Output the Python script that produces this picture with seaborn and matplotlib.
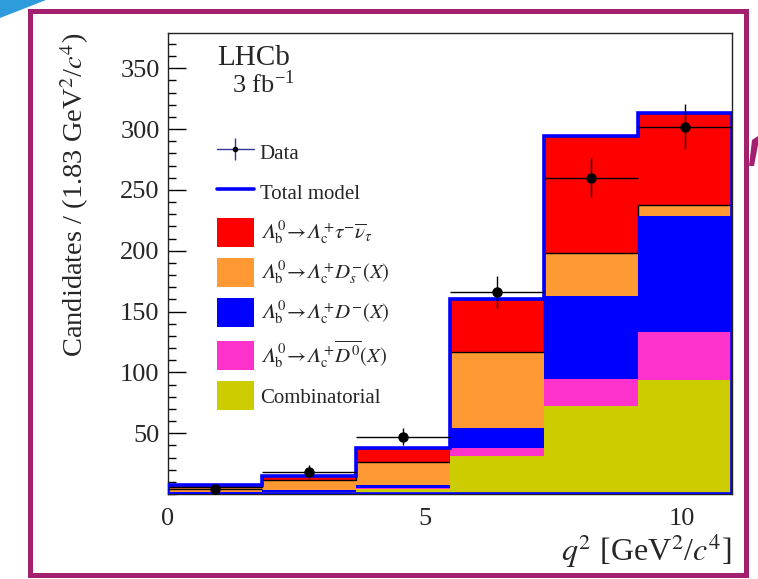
import numpy as np
import pandas as pd
import seaborn as sns
import matplotlib
matplotlib.use("Agg")
import matplotlib.pyplot as plt
from matplotlib.patches import Rectangle, Polygon
from matplotlib.lines import Line2D
from matplotlib.patches import Patch
from matplotlib.ticker import MultipleLocator

# q^2 binning (GeV^2/c^4)
edges = [0.0, 1.83, 3.66, 5.49, 7.32, 9.15, 10.98]

# Fitted yields per bin for each template
tau_nu = [1.5, 3.5, 12.0, 43.6, 96.2, 75.3]
ds_x = [4.0, 8.5, 19.0, 62.2, 34.8, 9.0]
dminus_x = [0.7, 1.0, 2.0, 16.4, 68.5, 95.9]
d0bar_x = [0.3, 0.5, 0.5, 6.3, 22.5, 39.1]
combinatorial = [0.5, 1.5, 4.5, 31.5, 72.0, 93.7]

# Observed candidates
data_counts = [4, 18, 47, 166, 260, 302]
data_errors = [2.0, 5.5, 7.0, 13.0, 16.0, 18.5]

labels = {
    "tau": r"$𝛬_{\rm b}^{0}\!\rightarrow\!𝛬_{\rm c}^{+}\tau^{-}\overline{\nu}_{\tau}$",
    "ds": r"$𝛬_{\rm b}^{0}\!\rightarrow\!𝛬_{\rm c}^{+}D_{s}^{-}(X)$",
    "dm": r"$𝛬_{\rm b}^{0}\!\rightarrow\!𝛬_{\rm c}^{+}D^{-}(X)$",
    "d0": r"$𝛬_{\rm b}^{0}\!\rightarrow\!𝛬_{\rm c}^{+}\overline{D^{0}}(X)$",
    "comb": "Combinatorial",
}
colors = {"tau": "#FF0000", "ds": "#FF9933", "dm": "#0000FF",
          "d0": "#FF33CC", "comb": "#CCCC00"}
yields = {"tau": tau_nu, "ds": ds_x, "dm": dminus_x, "d0": d0bar_x,
          "comb": combinatorial}

edges_arr = np.asarray(edges)
centers = 0.5 * (edges_arr[:-1] + edges_arr[1:])
half_w = 0.5 * np.diff(edges_arr)

rows = []
for key, vals in yields.items():
    for c, v in zip(centers, vals):
        rows.append({"q2": c, "w": v, "comp": key})
df = pd.DataFrame(rows)

sns.set_style("ticks")
plt.rcParams["font.family"] = ["Liberation Serif", "DejaVu Serif"]
plt.rcParams["mathtext.fontset"] = "stix"

W, H = 758, 579
fig = plt.figure(figsize=(W / 100, H / 100), dpi=100)
ax = fig.add_axes([168 / W, 1 - 494 / H, (732 - 168) / W, (494 - 33) / H])

order = ["tau", "ds", "dm", "d0", "comb"]
sns.histplot(df, x="q2", weights="w", hue="comp", hue_order=order,
             bins=edges, multiple="stack", palette=colors, alpha=1,
             linewidth=0, edgecolor="none", legend=False, ax=ax)

# lower templates sit above the black outlines of the upper ones
lower = {matplotlib.colors.to_rgba(colors[k]) for k in ("dm", "d0", "comb")}
for cont in ax.containers:
    fc = tuple(cont.patches[0].get_facecolor())
    z = 3 if fc in lower else 1
    for p in cont.patches:
        p.set_zorder(z)

cum_ds = np.sum([yields[k] for k in ("comb", "d0", "dm", "ds")], axis=0)
total = cum_ds + np.asarray(tau_nu)
ax.stairs(total, edges, color="black", lw=1.0, zorder=2)
ax.stairs(cum_ds, edges, color="black", lw=1.0, zorder=2)
ax.stairs(total, edges, color="#0000FF", lw=2.6, zorder=4)
ax.plot([edges[0], edges[-1]], [0, 0], color="#0000FF", lw=2.6, zorder=4)

ax.errorbar(centers, data_counts, xerr=half_w, yerr=data_errors, fmt="o",
            color="black", ms=6.5, elinewidth=1.0, capsize=0, zorder=6)

ax.set_xlim(0, 10.98)
ax.set_ylim(0, 379)
ax.xaxis.set_major_locator(MultipleLocator(5))
ax.xaxis.set_minor_locator(MultipleLocator(1))
ax.yaxis.set_major_locator(MultipleLocator(50))
ax.yaxis.set_minor_locator(MultipleLocator(10))
ax.set_yticks([50, 100, 150, 200, 250, 300, 350])
ax.tick_params(axis="both", which="both", direction="in", top=False,
               right=False, labelsize=19, width=1.0, color="black")
ax.tick_params(axis="y", which="major", length=13, pad=6)
ax.tick_params(axis="y", which="minor", length=6)
ax.tick_params(axis="x", which="major", length=8.5, pad=10)
ax.tick_params(axis="x", which="minor", length=4)
for s in ax.spines.values():
    s.set_linewidth(1.0)
    s.set_color("#222222")

ax.set_xlabel(r"$q^{2}$ [GeV$^{2}$/$c^{4}$]", fontsize=23, loc="right",
              labelpad=2)
ax.set_ylabel(r"Candidates / (1.83 GeV$^{2}$/$c^{4}$)", fontsize=20.5,
              loc="top", labelpad=21)

ax.text(0.088, 0.93, "LHCb", transform=ax.transAxes, fontsize=21,
        va="baseline", ha="left")
ax.text(0.113, 0.87, r"3 fb$^{\mathregular{-1}}$", transform=ax.transAxes,
        fontsize=19, va="baseline", ha="left")

navy = "#33339A"
data_handle = (Line2D([], [], color=navy, lw=1.0),
               Line2D([], [], color=navy, marker="|", ms=16, mew=1.0, ls="none"),
               Line2D([], [], color="black", marker="o", ms=3, ls="none"))
model_handle = Line2D([], [], color="#0000FF", lw=2.6)
handles = [data_handle, model_handle] + [Patch(facecolor=colors[k], edgecolor="none") for k in order]
texts = ["Data", "Total model"] + [labels[k] for k in order]
ax.legend(handles, texts, loc="upper left", bbox_to_anchor=(0.086, 0.772),
          frameon=False, fontsize=15, handlelength=1.78, handleheight=1.765,
          handletextpad=0.29, labelspacing=0.53, borderpad=0, borderaxespad=0)

# outer frame of the figure
fig.patches.append(Rectangle((29.5 / W, 1 - 574.5 / H), (746 - 29.5) / W,
                             (574.5 - 11) / H, transform=fig.transFigure,
                             fill=False, edgecolor="#A3206F", lw=3.6))
fig.patches.append(Polygon([(0, 1), (46 / W, 1), (0, 1 - 18 / H)],
                           closed=True, transform=fig.transFigure,
                           facecolor="#2E9BDB", edgecolor="none"))
fig.patches.append(Polygon([(752 / W, 1 - 140 / H), (758 / W, 1 - 136 / H),
                            (758 / W, 1 - 145 / H), (754 / W, 1 - 166 / H),
                            (749 / W, 1 - 166 / H)],
                           closed=True, transform=fig.transFigure,
                           facecolor="#A3206F", edgecolor="none"))

fig.savefig("out.png", dpi=100)
